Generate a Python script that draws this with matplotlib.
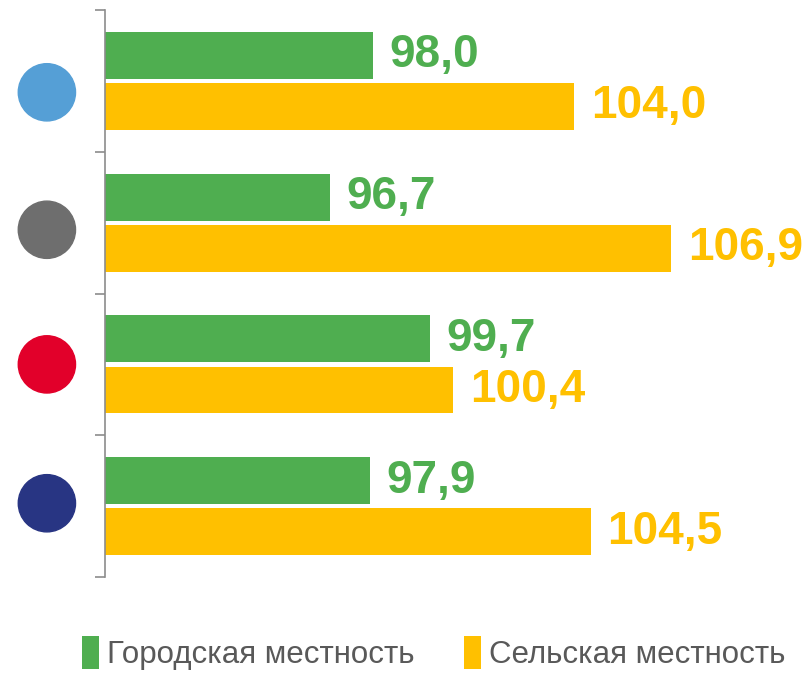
import matplotlib.pyplot as plt
import numpy as np

plt.rcParams['font.family'] = ['Liberation Sans', 'DejaVu Sans']

groups = ['1', '2', '3', '4']
urban = [98.0, 96.7, 99.7, 97.9]
rural = [104.0, 106.9, 100.4, 104.5]
dot_colors = ['#559FD6', '#6E6E6E', '#E2002A', '#283583']
labels = ['Городская местность', 'Сельская местность']

green = '#4FAE50'
yellow = '#FFC000'

fig = plt.figure(figsize=(8.09, 6.74), dpi=100)
ax = fig.add_axes([0.13, 0.144, 0.828, 0.841])

y = np.arange(len(groups))
h = 0.33
b1 = ax.barh(y - 0.18, [v - 90 for v in urban], left=90, height=h, color=green, label=labels[0])
b2 = ax.barh(y + 0.18, [v - 90 for v in rural], left=90, height=h, color=yellow, label=labels[1])

for yi, v in zip(y, urban):
    ax.text(v + 0.5, yi - 0.18, f"{v:.1f}".replace('.', ','), color=green,
            fontsize=33, fontweight='bold', va='center', ha='left', clip_on=False)
for yi, v in zip(y, rural):
    ax.text(v + 0.5, yi + 0.18, f"{v:.1f}".replace('.', ','), color=yellow,
            fontsize=33, fontweight='bold', va='center', ha='left', clip_on=False)

# colored dots as category markers (slightly tighter spacing than the groups)
dot_shift = np.array([0.08, 0.05, 0.0, -0.02])
trans = ax.get_yaxis_transform()
ax.scatter([-0.087] * len(groups), y + dot_shift, s=1700, c=dot_colors,
           transform=trans, clip_on=False)

ax.set_xlim(90, 110)
ax.set_ylim(len(groups) - 0.5, -0.5)
ax.set_yticks(np.arange(len(groups) + 1) - 0.5)
ax.set_yticklabels([])
ax.tick_params(axis='y', length=7, color='#8C8C8C', width=1.2)
ax.set_xticks([])
for s in ['top', 'right', 'bottom']:
    ax.spines[s].set_visible(False)
ax.spines['left'].set_color('#8C8C8C')
ax.spines['left'].set_linewidth(1.2)

fig.legend(handles=[b1, b2], labels=labels, loc='lower center', bbox_to_anchor=(0.536, -0.036),
           ncol=2, frameon=False, fontsize=22.5, handlelength=0.55, handleheight=1.25,
           handletextpad=0.25, columnspacing=1.6, labelcolor='#595959')

fig.savefig('out.png', dpi=100)
